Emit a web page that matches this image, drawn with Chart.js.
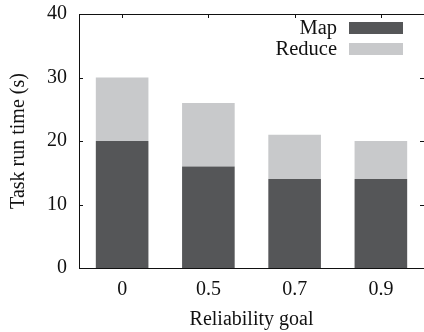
<!DOCTYPE html>
<html>
<head>
<meta charset="utf-8">
<script src="https://cdn.jsdelivr.net/npm/chart.js@4/dist/chart.umd.min.js"></script>
<style>
  html, body { margin: 0; padding: 0; background: #fff; }
  #wrap { width: 424px; height: 332px; }
</style>
</head>
<body>
<div id="wrap"><canvas id="chart" width="424" height="332"></canvas></div>
<script>
/* ================================
   Data
   ================================ */
const goals = ["0", "0.5", "0.7", "0.9"];
const mapTime = [20, 16, 14, 14];
const reduceTime = [10, 10, 7, 6];
const yTicks = [0, 10, 20, 30, 40];

const FONT = "'Liberation Serif', 'DejaVu Serif', serif";

/* ================================
   Frame, inward ticks and legend
   ================================ */
const framePlugin = {
  id: "frame",
  afterDatasetsDraw(chart) {
    const { ctx, chartArea: a, scales } = chart;
    ctx.save();
    ctx.strokeStyle = "#111";
    ctx.lineWidth = 1;
    ctx.beginPath();
    // top border
    ctx.moveTo(a.left, a.top + 0.5);
    ctx.lineTo(a.right, a.top + 0.5);
    // y ticks, both sides
    yTicks.forEach(v => {
      const y = Math.round(scales.y.getPixelForValue(v)) + 0.5;
      ctx.moveTo(a.left, y); ctx.lineTo(a.left + 4, y);
      ctx.moveTo(a.right - 4, y); ctx.lineTo(a.right, y);
    });
    // x ticks on top
    goals.forEach((g, i) => {
      const x = Math.round(scales.x.getPixelForValue(i)) + 0.5;
      ctx.moveTo(x, a.top); ctx.lineTo(x, a.top + 4);
    });
    ctx.stroke();

    // legend (text right aligned, box to the right)
    ctx.font = "20.5px " + FONT;
    ctx.textAlign = "right";
    ctx.textBaseline = "alphabetic";
    chart.data.datasets.forEach((ds, i) => {
      const y = 28 + i * 21;
      ctx.fillStyle = "#111";
      ctx.fillText(ds.label, 337, y + 6);
      ctx.fillStyle = ds.backgroundColor;
      ctx.fillRect(349, y - 6, 54, 12);
    });
    ctx.restore();
  }
};

/* ================================
   Chart
   ================================ */
new Chart(document.getElementById("chart"), {
  type: "bar",
  data: {
    labels: goals,
    datasets: [
      { label: "Map", data: mapTime, backgroundColor: "#555658" },
      { label: "Reduce", data: reduceTime, backgroundColor: "#c8c9cb" }
    ]
  },
  options: {
    responsive: false,
    animation: false,
    devicePixelRatio: 1,
    layout: { autoPadding: false, padding: { left: 0, top: 14, right: 0, bottom: 0 } },
    categoryPercentage: 0.61,
    barPercentage: 1,
    plugins: {
      legend: { display: false },
      tooltip: { enabled: false }
    },
    scales: {
      x: {
        stacked: true,
        grid: { display: false, drawTicks: false },
        border: { color: "#111", width: 1 },
        ticks: { color: "#111", font: { family: FONT, size: 20 }, padding: 10 },
        title: {
          display: true, text: "Reliability goal", color: "#111",
          font: { family: FONT, size: 20 }, padding: { top: 2, bottom: 0 }
        },
        afterFit(scale) {
          scale.height = 64;
          scale.paddingLeft = 0; scale.paddingRight = 0;
        }
      },
      y: {
        stacked: true,
        min: 0, max: 40,
        grid: { display: false, drawTicks: false },
        border: { color: "#111", width: 1 },
        afterBuildTicks(scale) { scale.ticks = yTicks.map(v => ({ value: v })); },
        ticks: { color: "#111", font: { family: FONT, size: 20 }, padding: 12 },
        title: {
          display: true, text: "Task run time (s)", color: "#111",
          font: { family: FONT, size: 20 }, padding: { top: 7, bottom: 0 }
        },
        afterFit(scale) {
          scale.width = 79;
          scale.paddingTop = 0; scale.paddingBottom = 0;
        }
      }
    }
  },
  plugins: [framePlugin]
});
</script>
</body>
</html>
